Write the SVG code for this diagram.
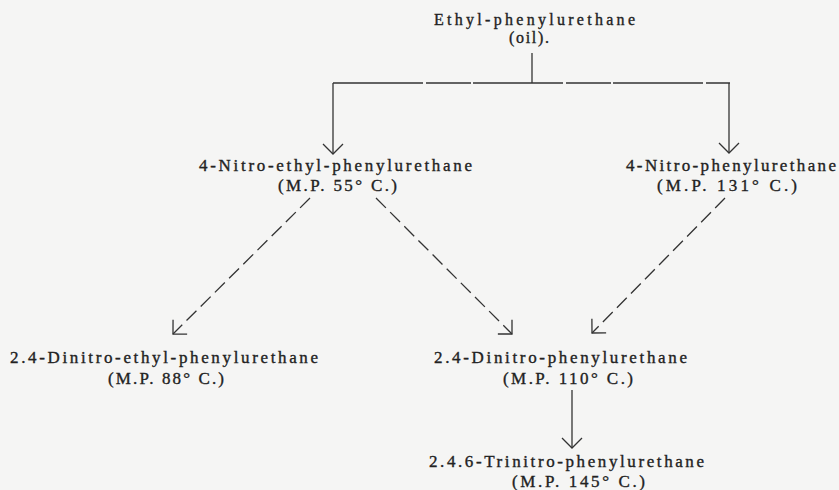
<svg xmlns="http://www.w3.org/2000/svg" width="839" height="490" viewBox="0 0 839 490">
  <style>
    .t { font-family: "Liberation Serif", "DejaVu Serif", serif; font-size: 17px; fill: #222; stroke: #222; stroke-width: 0.35; }
    .top { font-size: 16px; }
    .ln { stroke: #333; stroke-width: 1.3; fill: none; }
    .brk { stroke-dasharray: 90 3 45 2; }
    .dash { stroke-dasharray: 14 6; }
  </style>
  <defs>
    <marker id="arr" markerUnits="userSpaceOnUse" markerWidth="30" markerHeight="30" refX="0" refY="0" viewBox="-15 -15 30 30" orient="auto" overflow="visible">
      <path d="M -10 -10 L 0 0 L -10 10" fill="none" stroke="#333" stroke-width="1.3" stroke-dasharray="none"/>
    </marker>
  </defs>
  <rect x="0" y="0" width="839" height="490" fill="#f5f5f4"/>

  <g id="connectors">
    <line class="ln" x1="532" y1="53" x2="532" y2="83"/>
    <line class="ln brk" x1="333" y1="83" x2="730" y2="83"/>
    <line class="ln" x1="333" y1="83" x2="333" y2="154" marker-end="url(#arr)"/>
    <line class="ln" x1="729" y1="83" x2="729" y2="153" marker-end="url(#arr)"/>
    <line class="ln dash" x1="310" y1="198" x2="173" y2="334" marker-end="url(#arr)"/>
    <line class="ln dash" x1="376" y1="198" x2="512" y2="334" marker-end="url(#arr)"/>
    <line class="ln dash" x1="725" y1="198" x2="592" y2="333" marker-end="url(#arr)"/>
    <line class="ln" x1="572" y1="390" x2="572" y2="448" marker-end="url(#arr)"/>
  </g>

  <g id="ethyl-phenylurethane">
    <text class="t top" x="434" y="25" textLength="201" lengthAdjust="spacing">Ethyl-phenylurethane</text>
    <text class="t top" x="509" y="43" textLength="40" lengthAdjust="spacing">(oil).</text>
  </g>
  <g id="nitro-ethyl-phenylurethane">
    <text class="t" x="199" y="171" textLength="273" lengthAdjust="spacing">4-Nitro-ethyl-phenylurethane</text>
    <text class="t" x="278" y="191" textLength="119" lengthAdjust="spacing">(M.P. 55° C.)</text>
  </g>
  <g id="nitro-phenylurethane">
    <text class="t" x="626" y="171" textLength="210" lengthAdjust="spacing">4-Nitro-phenylurethane</text>
    <text class="t" x="657" y="191" textLength="140" lengthAdjust="spacing">(M.P. 131° C.)</text>
  </g>
  <g id="dinitro-ethyl-phenylurethane">
    <text class="t" x="10" y="363" textLength="308" lengthAdjust="spacing">2.4-Dinitro-ethyl-phenylurethane</text>
    <text class="t" x="108" y="384" textLength="116" lengthAdjust="spacing">(M.P. 88° C.)</text>
  </g>
  <g id="dinitro-phenylurethane">
    <text class="t" x="434" y="363" textLength="253" lengthAdjust="spacing">2.4-Dinitro-phenylurethane</text>
    <text class="t" x="503" y="384" textLength="130" lengthAdjust="spacing">(M.P. 110° C.)</text>
  </g>
  <g id="trinitro-phenylurethane">
    <text class="t" x="429" y="467" textLength="275" lengthAdjust="spacing">2.4.6-Trinitro-phenylurethane</text>
    <text class="t" x="512" y="487" textLength="133" lengthAdjust="spacing">(M.P. 145° C.)</text>
  </g>
</svg>
